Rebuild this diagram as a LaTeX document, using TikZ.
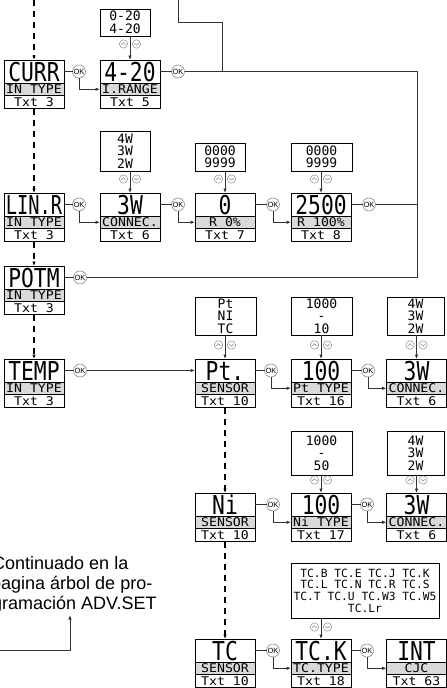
\documentclass[tikz,border=0pt]{standalone}
\usepackage{fontspec}
\usepackage{graphicx}
\setmainfont{Liberation Sans}
\newfontfamily\lcd{DejaVu Sans Mono}
\usetikzlibrary{arrows.meta}
\definecolor{cellgray}{HTML}{D9D9D9}
\definecolor{okgray}{HTML}{8C8C8C}
\definecolor{linegray}{HTML}{333333}

\newcommand\bigtxt[2][0.82]{\scalebox{#1}[1]{\fontsize{26}{26}\selectfont\lcd #2}}
\newcommand\smtxt[1]{\scalebox{1.1}[1]{#1}}

\tikzset{
 cell/.style={draw=black, line width=0.9pt, minimum width=60, inner sep=0pt, outer sep=0pt},
 bigcell/.style={cell, minimum height=23, text height=19, text depth=0pt},
 midcell/.style={cell, fill=cellgray, minimum height=12.5, font=\fontsize{12}{12}\selectfont\lcd, text height=8.8, text depth=0pt},
 txtcell/.style={cell, minimum height=13, font=\fontsize{12}{12}\selectfont\lcd, text height=8.8, text depth=0pt},
 optbox/.style={draw=black, line width=0.9pt, inner sep=0pt, outer sep=0pt, align=center, anchor=north west, font=\fontsize{13}{12.5}\selectfont\lcd},
 okc/.style={circle, draw=okgray, line width=0.6pt, fill=white, minimum size=13, inner sep=0pt, outer sep=0pt, font=\fontsize{7.5}{7.5}\selectfont},
 flow/.style={draw=linegray, line width=0.9pt},
 arr/.style={-{Latex[length=4.5pt,width=3.6pt]}},
 dashline/.style={draw=black, line width=1.3pt, dash pattern=on 6pt off 5pt},
 updn/.style={draw=okgray, line width=0.5pt},
 contxt/.style={anchor=base west, inner sep=0pt, font=\fontsize{18}{20}\selectfont},
}

\newcommand\valbox[7][0.82]{%
 \node[bigcell, anchor=north west] (#2) at (#3,#4) {\bigtxt[#1]{#5}};
 \node[midcell, anchor=north] (#2-m) at (#2.south) {\smtxt{#6}};
 \node[txtcell, anchor=north] (#2-t) at (#2-m.south) {\smtxt{#7}};
}
\newcommand\udmark[2]{%
 \draw[updn] (#1-6.5,#2) circle[radius=4.2];
 \draw[updn] (#1+6.5,#2) circle[radius=4.2];
 \draw[updn] (#1-8.7,#2+1) -- (#1-6.5,#2-1.2) -- (#1-4.3,#2+1);
 \draw[updn] (#1+4.3,#2-1) -- (#1+6.5,#2+1.2) -- (#1+8.7,#2-1);
}

\begin{document}
\begin{tikzpicture}[x=1pt, y=-1pt]
\useasboundingbox (0,0) rectangle (447,688);
\clip (0,0) rectangle (447,688);

% value boxes
\valbox{curr}{4}{60}{CURR}{IN TYPE}{Txt 3}
\valbox{rng}{100}{60}{4-20}{I.RANGE}{Txt 5}
\valbox[0.72]{linr}{4}{193}{LIN.R}{IN TYPE}{Txt 3}
\valbox{conA}{100}{193}{3W}{CONNEC.}{Txt 6}
\valbox{rzero}{195}{193}{0}{R 0\%}{Txt 7}
\valbox{rhund}{291}{193}{2500}{R 100\%}{Txt 8}
\valbox{potm}{4}{266}{POTM}{IN TYPE}{Txt 3}
\valbox{temp}{4}{359}{TEMP}{IN TYPE}{Txt 3}
\valbox{pt}{195}{359}{Pt.}{SENSOR}{Txt 10}
\valbox{ptt}{291}{359}{100}{Pt TYPE}{Txt 16}
\valbox{conB}{386.5}{359}{3W}{CONNEC.}{Txt 6}
\valbox{ni}{195}{493}{Ni}{SENSOR}{Txt 10}
\valbox{nit}{291}{493}{100}{Ni TYPE}{Txt 17}
\valbox{conC}{386.5}{493}{3W}{CONNEC.}{Txt 6}
\valbox{tc}{195}{639}{TC}{SENSOR}{Txt 10}
\valbox{tck}{291}{639}{TC.K}{TC.TYPE}{Txt 18}
\valbox{cjc}{386.5}{639}{INT}{CJC}{Txt 63}

% option lists
\node[optbox, minimum width=50, minimum height=27] (oRng) at (100,9) {0-20\\4-20};
\node[optbox, minimum width=50, minimum height=40] (oConA) at (100,131) {4W\\3W\\2W};
\node[optbox, minimum width=50, minimum height=28] (oRzero) at (195,143) {0000\\9999};
\node[optbox, minimum width=61, minimum height=28] (oRhund) at (291,143) {0000\\9999};
\node[optbox, minimum width=61, minimum height=38] (oPt) at (195,297) {Pt\\NI\\TC};
\node[optbox, minimum width=61, minimum height=38] (oPtt) at (291,297) {1000\\-\\10};
\node[optbox, minimum width=57, minimum height=38] (oConB) at (387,297) {4W\\3W\\2W};
\node[optbox, minimum width=61, minimum height=44] (oNit) at (291,431) {1000\\-\\50};
\node[optbox, minimum width=57, minimum height=44] (oConC) at (387,431) {4W\\3W\\2W};
\node[optbox, minimum width=148, minimum height=55, font=\fontsize{11.3}{11.7}\selectfont\lcd] (oTck) at (291,563) {TC.B TC.E TC.J TC.K\\TC.L TC.N TC.R TC.S\\TC.T TC.U TC.W3 TC.W5\\TC.Lr};

% OK buttons
\node[okc] (okCurr) at (79,71.5) {OK};
\node[okc] (okRng) at (178,71.5) {OK};
\node[okc] (okLinr) at (79,204.5) {OK};
\node[okc] (okConA) at (178,204.5) {OK};
\node[okc] (okRzero) at (273,204.5) {OK};
\node[okc] (okRhund) at (369,204.5) {OK};
\node[okc] (okPotm) at (80,277.5) {OK};
\node[okc] (okTemp) at (80,370.5) {OK};
\node[okc] (okPt) at (271,370.5) {OK};
\node[okc] (okPtt) at (368,370.5) {OK};
\node[okc] (okNi) at (273,504.5) {OK};
\node[okc] (okNit) at (367,504.5) {OK};
\node[okc] (okTc) at (273,650.5) {OK};
\node[okc] (okTck) at (367,650.5) {OK};

% free ends
\coordinate (dTop) at (34,0);
\coordinate (topA) at (178,0);
\coordinate (topB) at (222,22);
\coordinate (rtTop) at (417,71.5);
\coordinate (blA) at (0,650);
\coordinate (blB) at (70,615);

% dashed main paths
\draw[dashline, arr] (dTop) -- (curr.north);
\draw[dashline, arr] (curr-t.south) -- (linr.north);
\draw[dashline, arr] (linr-t.south) -- (potm.north);
\draw[dashline, arr] (potm-t.south) -- (temp.north);
\draw[dashline, arr] (pt-t.south) -- (ni.north);
\draw[dashline, arr] (ni-t.south) -- (tc.north);

% box to OK
\foreach \b/\o in {curr/okCurr, rng/okRng, linr/okLinr, conA/okConA, rzero/okRzero, rhund/okRhund, potm/okPotm, temp/okTemp, pt/okPt, ptt/okPtt, ni/okNi, nit/okNit, tc/okTc, tck/okTck}
  \draw[flow] (\b.east) -- (\o.west);

% OK to next parameter
\foreach \o/\b in {okCurr/rng, okLinr/conA, okConA/rzero, okRzero/rhund, okPt/ptt, okPtt/conB, okNi/nit, okNit/conC, okTc/tck, okTck/cjc}
  \draw[flow, arr] (\o.south) |- (\b-m.west);
\draw[flow, arr] (okTemp.east) -- (pt.west);

% option lists to boxes
\foreach \o/\b in {oRng/rng, oConA/conA, oRzero/rzero, oRhund/rhund, oPtt/ptt, oConB/conB, oNit/nit, oConC/conC, oTck/tck}
  \draw[flow, arr] (\o.south -| \b.north) -- (\b.north);
\draw[flow, arr] (oPt.south -| pt.north) -- (pt.north);

% up/down marks
\udmark{130}{44}
\udmark{130}{179}
\udmark{225}{179}
\udmark{321}{179}
\udmark{225}{345}
\udmark{321}{345}
\udmark{416.5}{345}
\udmark{321}{480}
\udmark{416.5}{480}
\udmark{321}{627}

% return lines
\draw[flow] (okPotm.east) -| (rtTop) -- (okRng.east);
\draw[flow] (okRhund.east) -- (okRhund.east -| rtTop);
\draw[flow] (topA) |- (topB) -- (topB |- okRng.east);

% continuation note
\node[contxt] (cont1) at (-8,569) {Continuado en la};
\node[contxt] (cont2) at (-9,589) {pagina árbol de pro-};
\node[contxt] (cont3) at (-8,609) {gramación ADV.SET};
\draw[flow, arr] (blA) -| (blB);
\end{tikzpicture}
\end{document}
